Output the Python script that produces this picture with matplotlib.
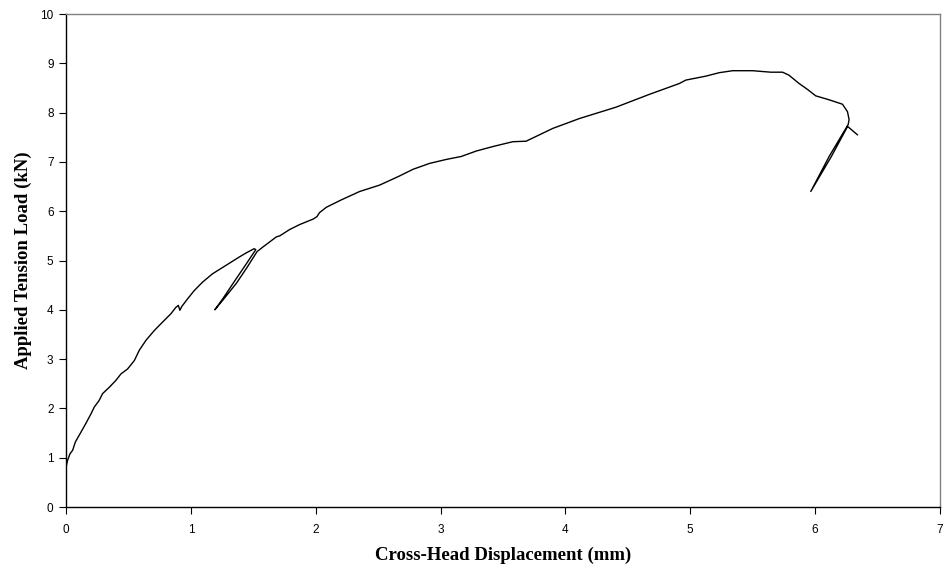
import matplotlib
matplotlib.use("Agg")
import matplotlib.pyplot as plt

# Cross-head displacement (mm) and applied tension load (kN)
displacement = [
    0.0, 0.0, 0.013, 0.032, 0.053, 0.075, 0.12, 0.16, 0.20, 0.227, 0.265, 0.293,
    0.347, 0.40, 0.44, 0.493, 0.547, 0.587, 0.64, 0.707, 0.773, 0.84, 0.88,
    0.90, 0.912, 0.928, 0.973, 1.027, 1.093, 1.173, 1.28, 1.387, 1.44, 1.507,
    1.52,
    # first unload / reload loop
    1.43, 1.339, 1.26, 1.192, 1.27, 1.365, 1.45, 1.53,
    1.58, 1.685, 1.712, 1.792, 1.872, 1.979, 2.01, 2.03, 2.085, 2.205, 2.352,
    2.512, 2.659, 2.779, 2.912, 3.045, 3.165, 3.285, 3.372, 3.432, 3.579,
    3.685, 3.899, 4.112, 4.405, 4.672, 4.912, 4.965, 5.125, 5.232, 5.339,
    5.499, 5.645, 5.739, 5.79, 5.872, 5.939, 6.005, 6.112, 6.219, 6.259,
    6.272, 6.265,
    # second unload / reload loop
    6.112, 5.965, 6.13, 6.26,
    6.339,
]
load = [
    0.0, 0.81, 0.95, 1.08, 1.15, 1.32, 1.52, 1.70, 1.89, 2.03, 2.16, 2.30,
    2.43, 2.57, 2.70, 2.80, 2.97, 3.18, 3.38, 3.58, 3.75, 3.92, 4.05,
    4.09, 3.99, 4.07, 4.22, 4.39, 4.56, 4.73, 4.90, 5.07, 5.15, 5.24,
    5.22,
    4.88, 4.54, 4.24, 4.00, 4.24, 4.54, 4.86, 5.18,
    5.28, 5.48, 5.50, 5.63, 5.73, 5.84, 5.89, 5.97, 6.08, 6.23, 6.40,
    6.53, 6.70, 6.85, 6.97, 7.05, 7.11, 7.22, 7.28, 7.32, 7.41,
    7.42, 7.68, 7.88, 8.11, 8.37, 8.59, 8.66, 8.74, 8.81, 8.85,
    8.85, 8.82, 8.82, 8.76, 8.59, 8.47, 8.34, 8.26, 8.17, 8.02,
    7.86, 7.76,
    7.11, 6.40, 7.11, 7.72,
    7.55,
]

x_ticks = [0, 1, 2, 3, 4, 5, 6, 7]
y_ticks = [0, 1, 2, 3, 4, 5, 6, 7, 8, 9, 10]

fig = plt.figure(figsize=(9.43, 5.72), dpi=100)
ax = fig.add_axes([0.070, 0.1136, 0.9268, 0.8619])

ax.plot(displacement, load, color="black", linewidth=1.0)

ax.set_xlim(0, 7)
ax.set_ylim(0, 10)
ax.set_xticks(x_ticks)
ax.set_yticks(y_ticks)
ax.set_xticklabels([str(v) for v in x_ticks], fontsize=8.5, family="Liberation Sans")
ax.set_yticklabels([str(v) for v in y_ticks], fontsize=8.5, family="Liberation Sans")
ax.tick_params(axis="both", direction="out", length=5, width=0.8, colors="black")
ax.tick_params(axis="x", pad=7)
ax.tick_params(axis="y", pad=4)

for side in ("top", "right"):
    ax.spines[side].set_color("#808080")
    ax.spines[side].set_linewidth(1.0)
for side in ("left", "bottom"):
    ax.spines[side].set_color("black")
    ax.spines[side].set_linewidth(1.0)

ax.set_xlabel("Cross-Head Displacement (mm)", fontsize=13.5, fontweight="bold",
              family="Liberation Serif", labelpad=8)
ax.set_ylabel("Applied Tension Load (kN)", fontsize=13.5, fontweight="bold",
              family="Liberation Serif", labelpad=6)

fig.savefig("out.png", dpi=100)
